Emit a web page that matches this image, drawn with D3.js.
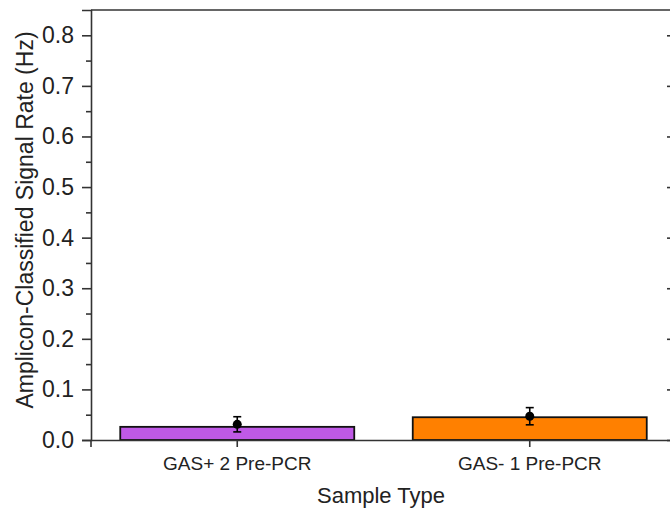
<!DOCTYPE html>
<html>
<head>
<meta charset="utf-8">
<script src="https://cdn.jsdelivr.net/npm/d3@7"></script>
<style>
  body { margin: 0; background: #fff; }
  svg text { font-family: "Liberation Sans", Arial, sans-serif; fill: #222; }
</style>
</head>
<body>
<svg id="chart" width="670" height="512"></svg>
<script>
// Sample categories and measured rates
const categories = ["GAS+ 2 Pre-PCR", "GAS- 1 Pre-PCR"];
const barValues = [0.026, 0.045];
const meanValues = [0.031, 0.047];
const errValues = [0.015, 0.017];
const barColors = ["#BF59E6", "#FF8000"];
const yTicks = [0.0, 0.1, 0.2, 0.3, 0.4, 0.5, 0.6, 0.7, 0.8];
const yMinorTicks = [0.05, 0.15, 0.25, 0.35, 0.45, 0.55, 0.65, 0.75];

const svg = d3.select("#chart");
const m = { left: 91, right: 676, top: 10, bottom: 440 };

const x = d3.scaleBand().domain(categories).range([m.left, m.right]).paddingInner(0.2).paddingOuter(0.1);
const y = d3.scaleLinear().domain([0, 0.85]).range([m.bottom, m.top]);

const axisColor = "#333";
const font = "'Liberation Sans', Arial, sans-serif";

// bars
svg.selectAll("rect.bar").data(categories).join("rect")
  .attr("class", "bar")
  .attr("x", d => x(d))
  .attr("width", x.bandwidth())
  .attr("y", (d, i) => y(barValues[i]))
  .attr("height", (d, i) => y(0) - y(barValues[i]))
  .attr("fill", (d, i) => barColors[i])
  .attr("stroke", "#111")
  .attr("stroke-width", 1.8);

// top spine
svg.append("line").attr("x1", m.left).attr("x2", m.right).attr("y1", m.top).attr("y2", m.top)
  .attr("stroke", axisColor).attr("stroke-width", 1.6);

// left axis, major ticks with labels
const yAxis = d3.axisLeft(y).tickValues(yTicks).tickFormat(d3.format(".1f")).tickSize(9).tickPadding(8);
const gy = svg.append("g").attr("transform", `translate(${m.left},0)`).call(yAxis);
gy.select(".domain").attr("stroke", axisColor).attr("stroke-width", 1.6);
gy.selectAll(".tick line").attr("stroke", axisColor).attr("stroke-width", 1.6);
gy.selectAll(".tick text").attr("font-size", 23).attr("fill", "#222").style("font-family", font);

// left axis minor ticks
svg.append("g").attr("transform", `translate(${m.left},0)`)
  .call(d3.axisLeft(y).tickValues(yMinorTicks).tickSize(5).tickFormat(""))
  .call(g => g.select(".domain").remove())
  .selectAll(".tick line").attr("stroke", axisColor).attr("stroke-width", 1.6);

// right spine with inward major ticks
const gr = svg.append("g").attr("transform", `translate(${m.right},0)`)
  .call(d3.axisLeft(y).tickValues(yTicks).tickSize(0).tickFormat(""));
gr.select(".domain").attr("stroke", axisColor).attr("stroke-width", 1.6);
gr.selectAll(".tick line").attr("x2", -9).attr("stroke", axisColor).attr("stroke-width", 1.6);

// bottom axis
const xAxis = d3.axisBottom(x).tickSize(7).tickPadding(10).tickSizeOuter(0);
const gx = svg.append("g").attr("transform", `translate(0,${m.bottom})`).call(xAxis);
gx.select(".domain").attr("stroke", axisColor).attr("stroke-width", 1.6);
gx.selectAll(".tick line").attr("stroke", axisColor).attr("stroke-width", 1.6);
gx.selectAll(".tick text").attr("font-size", 19).attr("fill", "#222").style("font-family", font);

// left spine extends slightly below the baseline
svg.append("line").attr("x1", m.left).attr("x2", m.left).attr("y1", m.bottom).attr("y2", m.bottom + 7)
  .attr("stroke", axisColor).attr("stroke-width", 1.6);

// error bars with mean markers
const cap = 4;
const eb = svg.append("g");
categories.forEach((c, i) => {
  const cx = x(c) + x.bandwidth() / 2;
  const hi = y(meanValues[i] + errValues[i]);
  const lo = y(meanValues[i] - errValues[i]);
  eb.append("line").attr("x1", cx).attr("x2", cx).attr("y1", hi).attr("y2", lo).attr("stroke", "#000").attr("stroke-width", 1.6);
  eb.append("line").attr("x1", cx - cap).attr("x2", cx + cap).attr("y1", hi).attr("y2", hi).attr("stroke", "#000").attr("stroke-width", 1.6);
  eb.append("line").attr("x1", cx - cap).attr("x2", cx + cap).attr("y1", lo).attr("y2", lo).attr("stroke", "#000").attr("stroke-width", 1.6);
  eb.append("circle").attr("cx", cx).attr("cy", y(meanValues[i])).attr("r", 4.5).attr("fill", "#000");
});

// axis titles
svg.append("text").attr("x", 381).attr("y", 503)
  .attr("text-anchor", "middle").attr("font-size", 22).text("Sample Type");
svg.append("text").attr("transform", "translate(33,220) rotate(-90)")
  .attr("text-anchor", "middle").attr("font-size", 23).text("Amplicon-Classified Signal Rate (Hz)");
</script>
</body>
</html>
